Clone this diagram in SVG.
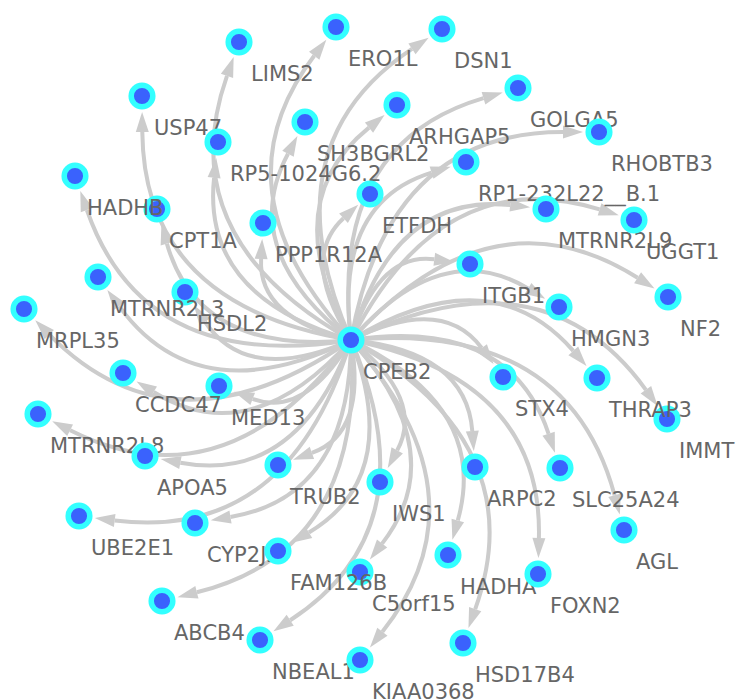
<svg xmlns="http://www.w3.org/2000/svg" width="736" height="700" viewBox="0 0 736 700">
<style>
.e{fill:none;stroke:#cccccc;stroke-width:4;marker-end:url(#ah)}
.n circle{fill:#3a62fd;stroke:#33ffff;stroke-width:5.5}
.n text{font-family:"DejaVu Sans","Liberation Sans",sans-serif;font-size:21px;fill:#666666}
</style>
<defs>
<marker id="ah" markerUnits="userSpaceOnUse" markerWidth="20" markerHeight="13" refX="0" refY="6.5" orient="auto" overflow="visible">
<path d="M0,0 L20,6.5 L0,13 z" fill="#cccccc"/>
</marker>
</defs>
<rect width="736" height="700" fill="#ffffff"/>
<g id="edges">
<path class="e" d="M351,340 Q169.8,238 227,75.9"/>
<path class="e" d="M351,340 Q144,305.8 142.3,132"/>
<path class="e" d="M351,340 Q201.3,296.9 214.1,177.8"/>
<path class="e" d="M351,340 Q144.1,373.9 86.9,210"/>
<path class="e" d="M351,340 Q199,356 166.9,243.6"/>
<path class="e" d="M351,340 Q212,189.8 314.2,55.7"/>
<path class="e" d="M351,340 Q265.9,146.3 412,48.9"/>
<path class="e" d="M351,340 Q236.4,250.3 288,153.7"/>
<path class="e" d="M351,340 Q275.3,203.2 369,127.6"/>
<path class="e" d="M351,340 Q333.7,202.7 431.6,172.6"/>
<path class="e" d="M351,340 Q299.2,259 343.5,218.3"/>
<path class="e" d="M351,340 Q257.9,318.5 261.1,259"/>
<path class="e" d="M351,340 Q328.7,143.9 483.5,98.2"/>
<path class="e" d="M351,340 Q387.6,131.8 563,132"/>
<path class="e" d="M351,340 Q393.5,192.6 510.2,205.1"/>
<path class="e" d="M351,340 Q442.1,161.1 599.6,209.4"/>
<path class="e" d="M351,340 Q198,414.8 119.1,306.1"/>
<path class="e" d="M351,340 Q174.5,461.8 49.3,334.6"/>
<path class="e" d="M351,340 Q247.8,385.7 205,321.9"/>
<path class="e" d="M351,340 Q250.9,452.3 153.6,392"/>
<path class="e" d="M351,340 Q304.3,418.4 252.7,398.8"/>
<path class="e" d="M351,340 Q225.6,508.5 70.1,430.2"/>
<path class="e" d="M351,340 Q296.7,484.5 180.4,462.7"/>
<path class="e" d="M351,340 Q378.6,252 434.3,259.3"/>
<path class="e" d="M351,340 Q491.4,185.4 637.6,277.8"/>
<path class="e" d="M351,340 Q441.1,236.1 528.1,288.5"/>
<path class="e" d="M351,340 Q442.5,294.7 481.7,348"/>
<path class="e" d="M351,340 Q490,255.7 573.3,350.9"/>
<path class="e" d="M351,340 Q542.2,246.8 645.9,389.8"/>
<path class="e" d="M351,340 Q509.3,316.2 548.6,433.8"/>
<path class="e" d="M351,340 Q288.9,542.2 114.7,520.5"/>
<path class="e" d="M351,340 Q349.9,497 230.5,517"/>
<path class="e" d="M351,340 Q366.1,549.9 196.9,592.3"/>
<path class="e" d="M351,340 Q367,433.2 311.9,452.9"/>
<path class="e" d="M351,340 Q425.1,398.8 397.2,450.4"/>
<path class="e" d="M351,340 Q466.3,351.4 472.3,431.1"/>
<path class="e" d="M351,340 Q403.1,476.2 308.9,532.5"/>
<path class="e" d="M351,340 Q452.9,452.2 382.1,543.6"/>
<path class="e" d="M351,340 Q489.8,406.8 457.8,520.4"/>
<path class="e" d="M351,340 Q431.5,528.2 290.2,620.3"/>
<path class="e" d="M351,340 Q489.9,496.2 382.4,631.8"/>
<path class="e" d="M351,340 Q534.3,444.5 475.2,609.1"/>
<path class="e" d="M351,340 Q567.3,320.3 614.6,495.3"/>
<path class="e" d="M351,340 Q542.8,378.5 538.9,538"/>
</g>
<g id="n-CPEB2" class="n"><circle cx="351" cy="340" r="10.8"/><text x="363" y="379">CPEB2</text></g>
<g id="n-LIMS2" class="n"><circle cx="239" cy="42" r="10.8"/><text x="251" y="81">LIMS2</text></g>
<g id="n-USP47" class="n"><circle cx="142" cy="96" r="10.8"/><text x="154" y="135">USP47</text></g>
<g id="n-RP5-1024G6.2" class="n"><circle cx="218" cy="142" r="10.8"/><text x="230" y="181">RP5-1024G6.2</text></g>
<g id="n-CPT1A" class="n"><circle cx="157" cy="209" r="10.8"/><text x="169" y="248">CPT1A</text></g>
<g id="n-HADHB" class="n"><circle cx="75" cy="176" r="10.8"/><text x="87" y="215">HADHB</text></g>
<g id="n-ERO1L" class="n"><circle cx="336" cy="27" r="10.8"/><text x="348" y="66">ERO1L</text></g>
<g id="n-DSN1" class="n"><circle cx="442" cy="29" r="10.8"/><text x="454" y="68">DSN1</text></g>
<g id="n-SH3BGRL2" class="n"><circle cx="305" cy="122" r="10.8"/><text x="317" y="161">SH3BGRL2</text></g>
<g id="n-ARHGAP5" class="n"><circle cx="397" cy="105" r="10.8"/><text x="409" y="144">ARHGAP5</text></g>
<g id="n-RP1-232L22__B.1" class="n"><circle cx="466" cy="162" r="10.8"/><text x="478" y="201">RP1-232L22__B.1</text></g>
<g id="n-ETFDH" class="n"><circle cx="370" cy="194" r="10.8"/><text x="382" y="233">ETFDH</text></g>
<g id="n-PPP1R12A" class="n"><circle cx="263" cy="223" r="10.8"/><text x="275" y="262">PPP1R12A</text></g>
<g id="n-GOLGA5" class="n"><circle cx="518" cy="88" r="10.8"/><text x="530" y="127">GOLGA5</text></g>
<g id="n-RHOBTB3" class="n"><circle cx="599" cy="132" r="10.8"/><text x="611" y="171">RHOBTB3</text></g>
<g id="n-MTRNR2L9" class="n"><circle cx="546" cy="209" r="10.8"/><text x="558" y="248">MTRNR2L9</text></g>
<g id="n-UGGT1" class="n"><circle cx="634" cy="220" r="10.8"/><text x="646" y="259">UGGT1</text></g>
<g id="n-HSDL2" class="n"><circle cx="185" cy="292" r="10.8"/><text x="197" y="331">HSDL2</text></g>
<g id="n-MTRNR2L3" class="n"><circle cx="98" cy="277" r="10.8"/><text x="110" y="316">MTRNR2L3</text></g>
<g id="n-MRPL35" class="n"><circle cx="24" cy="309" r="10.8"/><text x="36" y="348">MRPL35</text></g>
<g id="n-MED13" class="n"><circle cx="219" cy="386" r="10.8"/><text x="231" y="425">MED13</text></g>
<g id="n-CCDC47" class="n"><circle cx="123" cy="373" r="10.8"/><text x="135" y="412">CCDC47</text></g>
<g id="n-MTRNR2L8" class="n"><circle cx="38" cy="414" r="10.8"/><text x="50" y="453">MTRNR2L8</text></g>
<g id="n-APOA5" class="n"><circle cx="145" cy="456" r="10.8"/><text x="157" y="495">APOA5</text></g>
<g id="n-ITGB1" class="n"><circle cx="470" cy="264" r="10.8"/><text x="482" y="303">ITGB1</text></g>
<g id="n-NF2" class="n"><circle cx="668" cy="297" r="10.8"/><text x="680" y="336">NF2</text></g>
<g id="n-HMGN3" class="n"><circle cx="559" cy="307" r="10.8"/><text x="571" y="346">HMGN3</text></g>
<g id="n-STX4" class="n"><circle cx="503" cy="377" r="10.8"/><text x="515" y="416">STX4</text></g>
<g id="n-IMMT" class="n"><circle cx="667" cy="419" r="10.8"/><text x="679" y="458">IMMT</text></g>
<g id="n-THRAP3" class="n"><circle cx="597" cy="378" r="10.8"/><text x="609" y="417">THRAP3</text></g>
<g id="n-SLC25A24" class="n"><circle cx="560" cy="468" r="10.8"/><text x="572" y="507">SLC25A24</text></g>
<g id="n-UBE2E1" class="n"><circle cx="79" cy="516" r="10.8"/><text x="91" y="555">UBE2E1</text></g>
<g id="n-CYP2J2" class="n"><circle cx="195" cy="523" r="10.8"/><text x="207" y="562">CYP2J2</text></g>
<g id="n-ABCB4" class="n"><circle cx="162" cy="601" r="10.8"/><text x="174" y="640">ABCB4</text></g>
<g id="n-TRUB2" class="n"><circle cx="278" cy="465" r="10.8"/><text x="290" y="504">TRUB2</text></g>
<g id="n-IWS1" class="n"><circle cx="380" cy="482" r="10.8"/><text x="392" y="521">IWS1</text></g>
<g id="n-ARPC2" class="n"><circle cx="475" cy="467" r="10.8"/><text x="487" y="506">ARPC2</text></g>
<g id="n-C5orf15" class="n"><circle cx="360" cy="572" r="10.8"/><text x="372" y="611">C5orf15</text></g>
<g id="n-FAM126B" class="n"><circle cx="278" cy="551" r="10.8"/><text x="290" y="590">FAM126B</text></g>
<g id="n-HADHA" class="n"><circle cx="448" cy="555" r="10.8"/><text x="460" y="594">HADHA</text></g>
<g id="n-NBEAL1" class="n"><circle cx="260" cy="640" r="10.8"/><text x="272" y="679">NBEAL1</text></g>
<g id="n-KIAA0368" class="n"><circle cx="360" cy="660" r="10.8"/><text x="372" y="699">KIAA0368</text></g>
<g id="n-HSD17B4" class="n"><circle cx="463" cy="643" r="10.8"/><text x="475" y="682">HSD17B4</text></g>
<g id="n-AGL" class="n"><circle cx="624" cy="530" r="10.8"/><text x="636" y="569">AGL</text></g>
<g id="n-FOXN2" class="n"><circle cx="538" cy="574" r="10.8"/><text x="550" y="613">FOXN2</text></g>
</svg>
